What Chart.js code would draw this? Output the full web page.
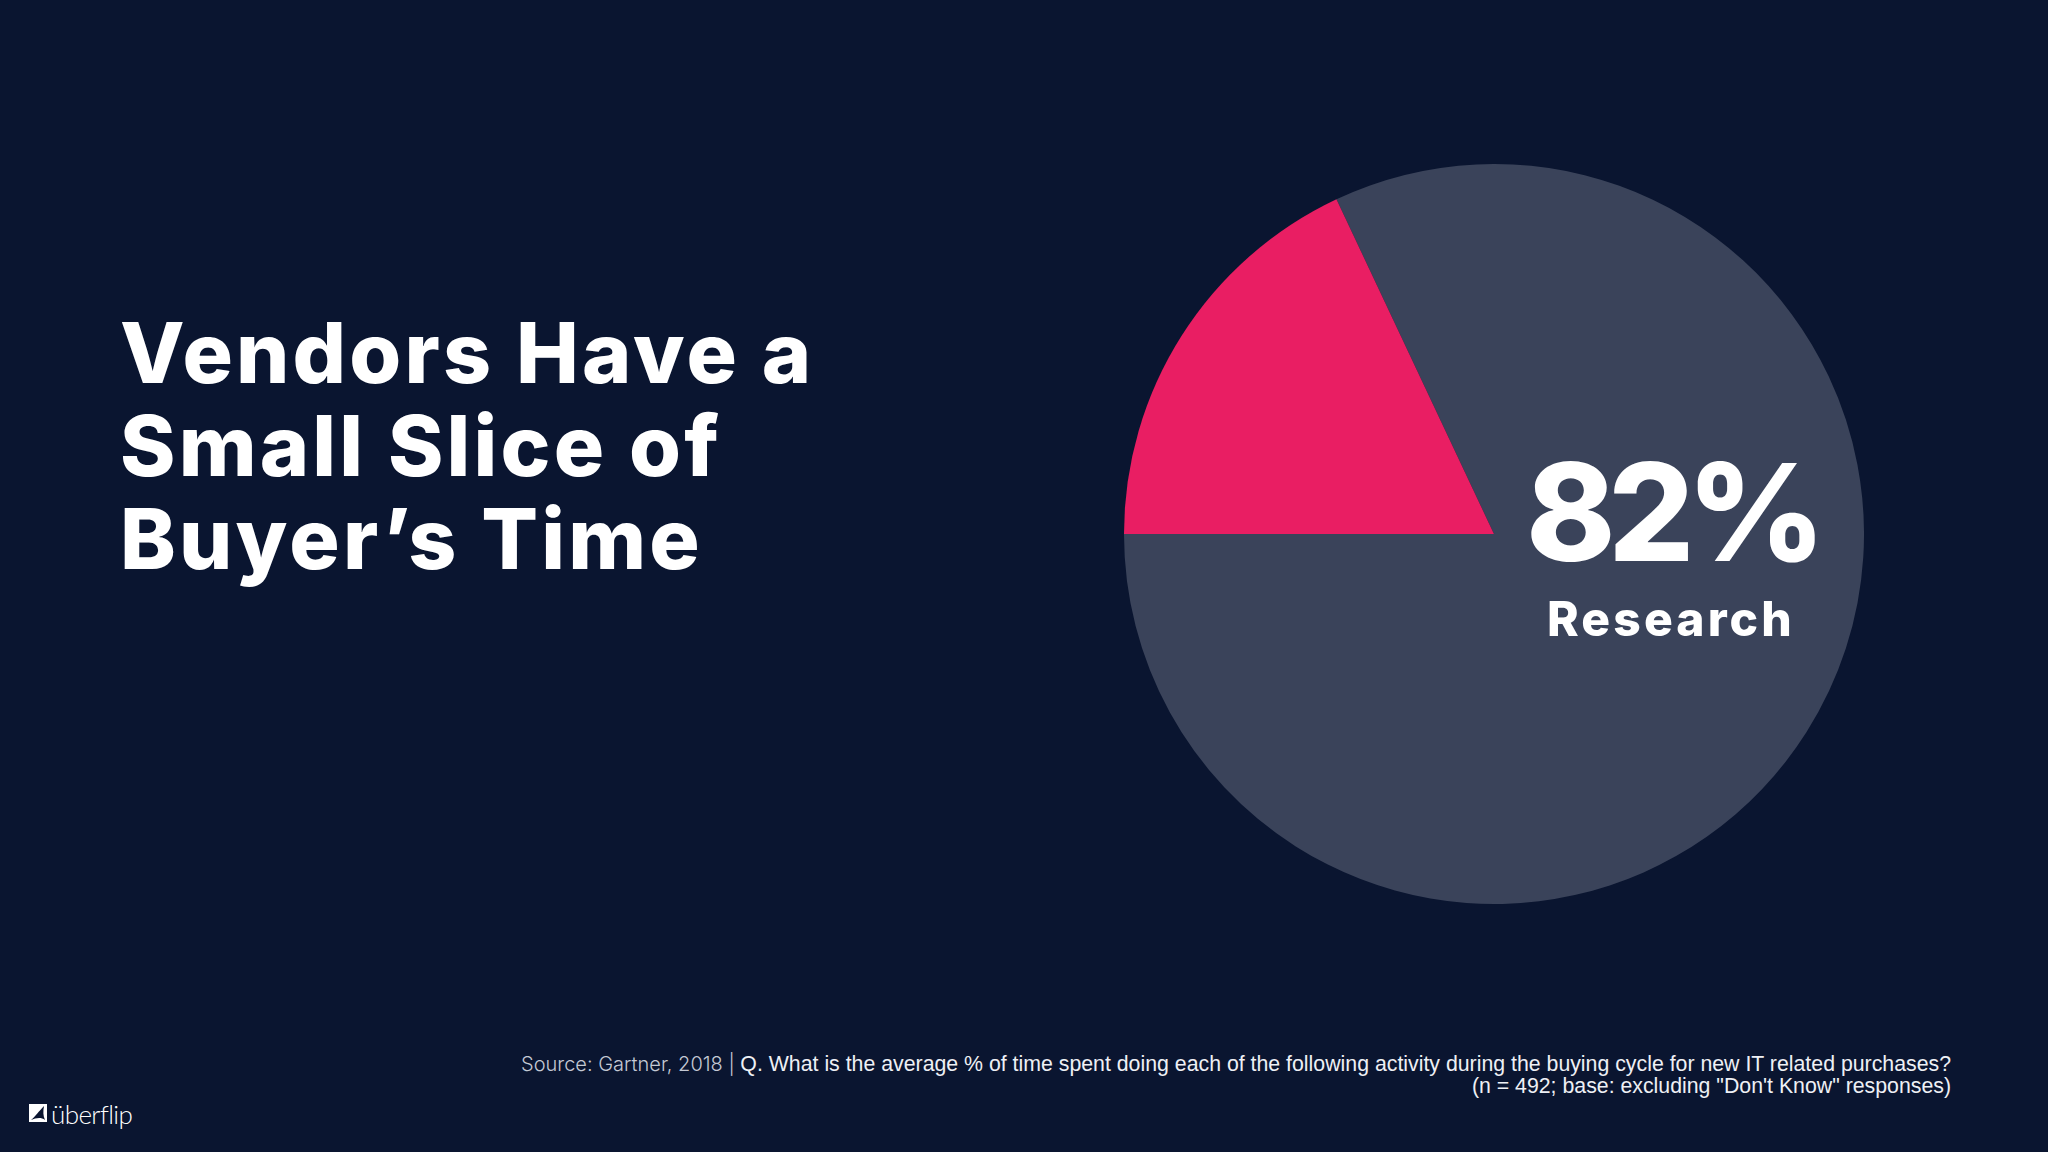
<!DOCTYPE html>
<html>
<head>
<meta charset="utf-8">
<script src="https://cdn.jsdelivr.net/npm/chart.js@4"></script>
<style>
html, body { margin: 0; padding: 0; background: #0a1530; }
#page { position: relative; width: 2048px; height: 1152px; overflow: hidden; background: #0a1530; color: #fff; }
#page div, #page canvas { position: absolute; }
#page div { white-space: nowrap; }
#pie-wrap { left: 1124px; top: 164px; width: 740px; height: 740px; }
.inter { font-family: Inter, sans-serif; font-weight: 800; }
#title { left: 120px; top: 306px; font-size: 84px; line-height: 93px; letter-spacing: 3.2px; }
#big { left: 1526px; top: 445px; font-size: 135px; line-height: 135px; letter-spacing: -7.5px; }
#sub { left: 1547px; top: 595px; font-size: 48px; line-height: 48px; letter-spacing: 3.1px; }
#note { right: 97px; top: 1053px; text-align: right; font-family: "Liberation Sans", Arial, sans-serif; font-size: 21.3px; line-height: 22px; color: #eef0f5; }
#note span { font-family: Inter, sans-serif; font-weight: 300; color: #c4c9d4; font-size: 20px; }
#logo { left: 29px; top: 1104px; width: 18px; height: 18px; }
#brand { left: 51px; top: 1098px; font-family: Lato, sans-serif; font-weight: 300; font-size: 26px; line-height: 32px; letter-spacing: -0.6px; }
</style>
</head>
<body>
<div id="page">
	<div id="title" class="inter">Vendors Have a<br>Small Slice of<br>Buyer’s Time</div>
	<div id="pie-wrap"><canvas id="myChart" width="740" height="740"></canvas></div>
	<div id="big" class="inter">82%</div>
	<div id="sub" class="inter">Research</div>
	<div id="note"><span>Source: Gartner, 2018 | </span>Q. What is the average % of time spent doing each of the following activity during the buying cycle for new IT related purchases?<br>(n = 492; base: excluding "Don't Know" responses)</div>
	<div id="logo"><svg width="18" height="18" viewBox="0 0 18 18"><rect width="18" height="18" fill="#fff"/><path d="M2 16 C6 13 10 7 15 2 C14 7 14 12 16 16 C12 13 7 14 2 16 Z" fill="#0a1530"/></svg></div>
	<div id="brand">überflip</div>
</div>

<script>
// ========== data
const categories = ['Research', 'Vendors']
const values = [82, 18]
const sliceColors = ['#3a435a', '#e91e63']

// ========== chart
const ctx = document.getElementById('myChart').getContext('2d')
const myChart = new Chart(ctx, {
	type: 'pie',
	data: {
		labels: categories,
		datasets: [{
			data: values,
			backgroundColor: sliceColors,
			borderWidth: 0
		}]
	},
	options: {
		responsive: false,
		animation: false,
		rotation: -25.2,
		layout: { padding: 0 },
		plugins: {
			legend: { display: false },
			tooltip: { enabled: false }
		}
	}
})
</script>
</body>
</html>
